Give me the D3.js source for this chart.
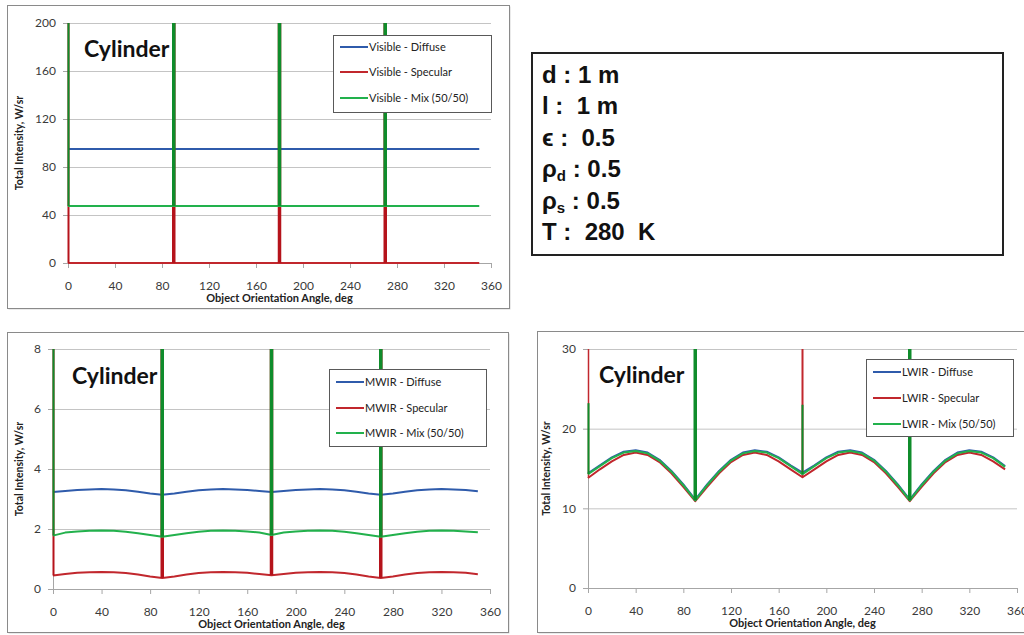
<!DOCTYPE html>
<html>
<head>
<meta charset="utf-8">
<script src="https://cdn.jsdelivr.net/npm/d3@7"></script>
<style>
    body { margin: 0; background: #fff; }
    svg text { font-family: Lato, "Open Sans", sans-serif; }
    .params text { font-family: "Liberation Sans", Arial, sans-serif; font-weight: bold; white-space: pre; }
</style>
</head>
<body>
<svg id="chart" width="1024" height="635"></svg>
<script>
// Orientation angles (deg) and the angles where the specular glint spikes off the scale
var angles = [0, 10, 20, 30, 40, 50, 60, 70, 80, 90, 100, 110, 120, 130, 140, 150, 160, 170,
              180, 190, 200, 210, 220, 230, 240, 250, 260, 270, 280, 290, 300, 310, 320, 330, 340, 350];
var spikeAngles = [0, 90, 180, 270];
var xTickValues = [0, 40, 80, 120, 160, 200, 240, 280, 320, 360];
var seriesNames = ["Diffuse", "Specular", "Mix (50/50)"];

// Visible band
var visDiffuse = [95, 95, 95, 95, 95, 95, 95, 95, 95, 95, 95, 95, 95, 95, 95, 95, 95, 95,
                  95, 95, 95, 95, 95, 95, 95, 95, 95, 95, 95, 95, 95, 95, 95, 95, 95, 95];
var visSpecular = [0, 0, 0, 0, 0, 0, 0, 0, 0, 0, 0, 0, 0, 0, 0, 0, 0, 0,
                   0, 0, 0, 0, 0, 0, 0, 0, 0, 0, 0, 0, 0, 0, 0, 0, 0, 0];
var visMix = [47.5, 47.5, 47.5, 47.5, 47.5, 47.5, 47.5, 47.5, 47.5, 47.5, 47.5, 47.5, 47.5, 47.5, 47.5, 47.5, 47.5, 47.5,
              47.5, 47.5, 47.5, 47.5, 47.5, 47.5, 47.5, 47.5, 47.5, 47.5, 47.5, 47.5, 47.5, 47.5, 47.5, 47.5, 47.5, 47.5];
var visSpecularSpike = [5000, 5000, 5000, 5000];
var visMixSpike = [5000, 5000, 5000, 5000];
var visYTicks = [0, 40, 80, 120, 160, 200];

// MWIR band
var mwirDiffuse = [3.23, 3.27, 3.30, 3.32, 3.33, 3.32, 3.29, 3.24, 3.18, 3.14, 3.18, 3.24, 3.29, 3.32, 3.33, 3.32, 3.30, 3.27,
                   3.23, 3.27, 3.30, 3.32, 3.33, 3.32, 3.29, 3.24, 3.18, 3.14, 3.18, 3.24, 3.29, 3.32, 3.33, 3.32, 3.30, 3.26];
var mwirSpecular = [0.45, 0.50, 0.54, 0.56, 0.57, 0.56, 0.53, 0.48, 0.42, 0.37, 0.42, 0.48, 0.53, 0.56, 0.57, 0.56, 0.54, 0.50,
                    0.46, 0.50, 0.54, 0.56, 0.57, 0.56, 0.53, 0.48, 0.42, 0.37, 0.42, 0.48, 0.53, 0.56, 0.57, 0.56, 0.54, 0.49];
var mwirMix = [1.78, 1.88, 1.92, 1.94, 1.95, 1.94, 1.91, 1.86, 1.80, 1.74, 1.80, 1.86, 1.91, 1.94, 1.95, 1.94, 1.92, 1.88,
               1.80, 1.88, 1.92, 1.94, 1.95, 1.94, 1.91, 1.86, 1.80, 1.74, 1.80, 1.86, 1.91, 1.94, 1.95, 1.94, 1.92, 1.89];
var mwirSpecularSpike = [500, 500, 500, 500];
var mwirMixSpike = [500, 500, 500, 500];
var mwirYTicks = [0, 2, 4, 6, 8];

// LWIR band
var lwirDiffuse = [14.4, 15.4, 16.4, 17.1, 17.3, 17.0, 16.1, 14.7, 13.0, 11.1, 13.0, 14.7, 16.1, 17.0, 17.3, 17.1, 16.4, 15.4,
                   14.5, 15.4, 16.4, 17.1, 17.3, 17.0, 16.1, 14.7, 13.0, 11.1, 13.0, 14.7, 16.1, 17.0, 17.3, 17.1, 16.4, 15.3];
var lwirSpecular = [13.8, 14.9, 15.9, 16.7, 17.0, 16.7, 15.8, 14.4, 12.7, 10.9, 12.7, 14.4, 15.8, 16.7, 17.0, 16.7, 15.9, 14.9,
                    13.9, 14.9, 15.9, 16.7, 17.0, 16.7, 15.8, 14.4, 12.7, 10.9, 12.7, 14.4, 15.8, 16.7, 17.0, 16.7, 15.9, 14.9];
var lwirMix = [14.3, 15.3, 16.3, 17.0, 17.2, 16.9, 16.0, 14.6, 12.9, 11.0, 12.9, 14.6, 16.0, 16.9, 17.2, 17.0, 16.3, 15.3,
               14.3, 15.3, 16.3, 17.0, 17.2, 16.9, 16.0, 14.6, 12.9, 11.0, 12.9, 14.6, 16.0, 16.9, 17.2, 17.0, 16.3, 15.2];
var lwirSpecularSpike = [2000, 2000, 2000, 2000];
var lwirMixSpike = [23.2, 2000, 23.0, 2000];
var lwirYTicks = [0, 10, 20, 30];

// Parameter box lines: [main, subscript, rest]
var paramLines = [["d : 1 m", "", ""], ["l :  1 m", "", ""], ["\u03F5 :  0.5", "", ""],
                  ["\u03C1", "d", " : 0.5"], ["\u03C1", "s", " : 0.5"], ["T :  280  K", "", ""]];

var colors = { diffuse: "#2f5bab", specular: "#c1272d", mix: "#22b14c", mixSpike: "#0f8c2b", specSpike: "#b5131b" };

var svg = d3.select("#chart");

function drawPanel(cfg) {
    var g = svg.append("g");
    var p = cfg.plot;

    // panel frame (with a faint drop shadow)
    g.append("rect")
        .attr("x", cfg.frame.x + 1.5).attr("y", cfg.frame.y + 1.5)
        .attr("width", cfg.frame.w).attr("height", cfg.frame.h)
        .attr("fill", "#d6d6d6");
    g.append("rect")
        .attr("x", cfg.frame.x + 0.5).attr("y", cfg.frame.y + 0.5)
        .attr("width", cfg.frame.w).attr("height", cfg.frame.h)
        .attr("fill", "#fff").attr("stroke", "#8a8a8a");

    var x = d3.scaleLinear().domain([0, 360]).range([p.left, p.right]);
    var y = d3.scaleLinear().domain([0, cfg.yTicks[cfg.yTicks.length - 1]]).range([p.bottom, p.top]);

    // gridlines
    g.append("g")
        .attr("transform", "translate(" + p.left + ",0)")
        .call(d3.axisLeft(y).tickValues(cfg.yTicks.slice(1)).tickSize(-(p.right - p.left)).tickFormat(""))
        .call(function (s) {
            s.select(".domain").remove();
            s.selectAll("line").attr("stroke", "#c4c4c4");
        });

    // axes
    var yAxis = g.append("g")
        .attr("transform", "translate(" + p.left + ",0)")
        .call(d3.axisLeft(y).tickValues(cfg.yTicks).tickSize(5).tickPadding(7).tickSizeOuter(0));
    var xAxis = g.append("g")
        .attr("transform", "translate(0," + p.bottom + ")")
        .call(d3.axisBottom(x).tickValues(xTickValues).tickSize(5).tickPadding(13).tickSizeOuter(0));
    [yAxis, xAxis].forEach(function (a) {
        a.select(".domain").attr("stroke", "#a6a6a6");
        a.selectAll(".tick line").attr("stroke", "#a6a6a6");
        a.selectAll("text").attr("fill", "#3a3a3a").style("font-size", "12px");
    });

    // clip to the plot area
    var clipId = "clip-" + cfg.band;
    svg.append("clipPath").attr("id", clipId).append("rect")
        .attr("x", p.left - 3).attr("y", p.top).attr("width", p.right - p.left + 6).attr("height", p.bottom - p.top + 2);
    var plot = g.append("g").attr("clip-path", "url(#" + clipId + ")");

    var line = d3.line()
        .x(function (d, i) { return x(angles[i]); })
        .y(function (d) { return y(d); });

    cfg.series.forEach(function (s) {
        plot.append("path")
            .datum(s.values)
            .attr("fill", "none")
            .attr("stroke", s.color)
            .attr("stroke-width", 2)
            .attr("stroke-linejoin", "round")
            .attr("d", line);
        if (!s.spike) return;
        plot.selectAll(null)
            .data(spikeAngles)
            .enter().append("line")
            .attr("x1", function (a) { return x(a) + (a === 0 ? 0.5 : 0); })
            .attr("x2", function (a) { return x(a) + (a === 0 ? 0.5 : 0); })
            .attr("y1", function (a) { return y(s.values[angles.indexOf(a)]); })
            .attr("y2", function (a, i) { return y(s.spike[i]); })
            .attr("stroke", s.spikeColor)
            .attr("stroke-width", function (a, i) { return s.spikeWidth[i]; });
    });

    // title
    g.append("text")
        .attr("x", cfg.title.x).attr("y", cfg.title.y)
        .style("font-size", "23px").style("font-weight", "bold")
        .attr("fill", "#111")
        .text("Cylinder");

    // axis titles
    g.append("text")
        .attr("transform", "translate(" + cfg.yTitleX + "," + ((p.top + p.bottom) / 2) + ") rotate(-90)")
        .attr("text-anchor", "middle")
        .style("font-size", "10.5px").style("font-weight", "bold")
        .attr("fill", "#222")
        .text("Total Intensity, W/sr");
    g.append("text")
        .attr("x", (p.left + p.right) / 2).attr("y", cfg.xTitleY)
        .attr("text-anchor", "middle")
        .style("font-size", "11px").style("font-weight", "bold")
        .attr("fill", "#222")
        .text("Object Orientation Angle, deg");

    // legend
    var lg = g.append("g").attr("transform", "translate(" + cfg.legend.x + "," + cfg.legend.y + ")");
    lg.append("rect")
        .attr("x", 0.5).attr("y", 0.5)
        .attr("width", cfg.legend.w).attr("height", cfg.legend.h)
        .attr("fill", "#fff").attr("stroke", "#595959");
    var rows = lg.selectAll(".row")
        .data(cfg.series)
        .enter().append("g")
        .attr("transform", function (d, i) { return "translate(0," + cfg.legend.rows[i] + ")"; });
    rows.append("line")
        .attr("x1", 7).attr("x2", 35)
        .attr("stroke", function (d) { return d.color; })
        .attr("stroke-width", 2);
    rows.append("text")
        .attr("x", 36).attr("dy", "0.35em")
        .style("font-size", "11px")
        .attr("fill", "#222")
        .text(function (d, i) { return cfg.band + " - " + seriesNames[i]; });
}

drawPanel({
    band: "Visible",
    frame: { x: 7, y: 5, w: 502, h: 303 },
    plot: { left: 68, right: 491, top: 23, bottom: 263 },
    yTicks: visYTicks,
    title: { x: 84, y: 57 },
    yTitleX: 23, xTitleY: 302,
    legend: { x: 333, y: 35, w: 158, h: 77, rows: [12, 37, 63] },
    series: [
        { values: visDiffuse, color: colors.diffuse },
        { values: visSpecular, color: colors.specular, spike: visSpecularSpike, spikeColor: colors.specSpike, spikeWidth: [2, 3.5, 3.5, 3.5] },
        { values: visMix, color: colors.mix, spike: visMixSpike, spikeColor: colors.mixSpike, spikeWidth: [2, 3.5, 3.5, 3.5] }
    ]
});

drawPanel({
    band: "MWIR",
    frame: { x: 7, y: 332, w: 501, h: 300 },
    plot: { left: 53, right: 490, top: 349, bottom: 589 },
    yTicks: mwirYTicks,
    title: { x: 72, y: 384 },
    yTitleX: 23, xTitleY: 628,
    legend: { x: 329, y: 369, w: 157, h: 77, rows: [13, 39, 64] },
    series: [
        { values: mwirDiffuse, color: colors.diffuse },
        { values: mwirSpecular, color: colors.specular, spike: mwirSpecularSpike, spikeColor: colors.specSpike, spikeWidth: [2, 3.5, 3.5, 3.5] },
        { values: mwirMix, color: colors.mix, spike: mwirMixSpike, spikeColor: colors.mixSpike, spikeWidth: [2, 3.5, 3.5, 3.5] }
    ]
});

drawPanel({
    band: "LWIR",
    frame: { x: 537, y: 331, w: 495, h: 301 },
    plot: { left: 588, right: 1017, top: 349, bottom: 588 },
    yTicks: lwirYTicks,
    title: { x: 599, y: 383 },
    yTitleX: 550, xTitleY: 627,
    legend: { x: 866, y: 359, w: 147, h: 77, rows: [13, 39, 65] },
    series: [
        { values: lwirDiffuse, color: colors.diffuse },
        { values: lwirSpecular, color: colors.specular, spike: lwirSpecularSpike, spikeColor: colors.specular, spikeWidth: [1.5, 2, 2, 2] },
        { values: lwirMix, color: colors.mix, spike: lwirMixSpike, spikeColor: colors.mixSpike, spikeWidth: [2, 3.5, 2, 3.5] }
    ]
});

// parameter box
var params = svg.append("g").attr("class", "params");
params.append("rect")
    .attr("x", 532).attr("y", 53).attr("width", 471).attr("height", 202)
    .attr("fill", "#fff").attr("stroke", "#222").attr("stroke-width", 2);
var paramY = d3.scalePoint().domain(d3.range(paramLines.length)).range([83, 240]);
var pt = params.selectAll(".p")
    .data(paramLines)
    .enter().append("text")
    .attr("x", 542)
    .attr("y", function (d, i) { return paramY(i); })
    .style("font-size", "24px")
    .attr("fill", "#111");
pt.append("tspan").text(function (d) { return d[0]; });
pt.append("tspan").attr("dy", 4).style("font-size", "15px").text(function (d) { return d[1]; });
pt.append("tspan").attr("dy", -4).text(function (d) { return d[2]; });
</script>
</body>
</html>
